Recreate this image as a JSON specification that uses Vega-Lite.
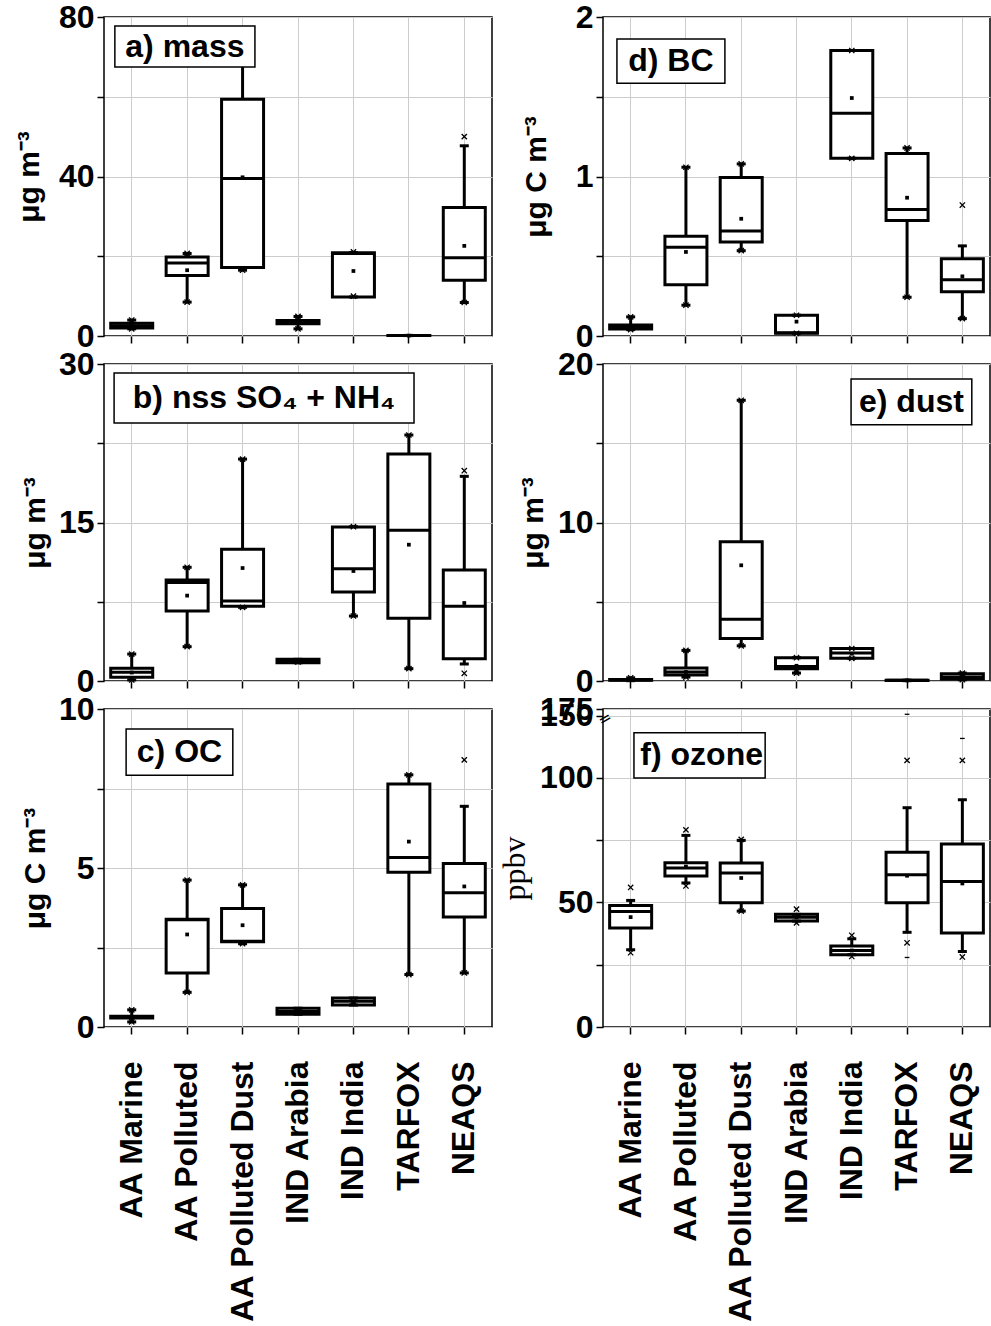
{
  "$schema": "https://vega.github.io/schema/vega-lite/v6.json",
  "padding": {"left": 13, "top": 0, "right": 0, "bottom": 0},
  "config": {
    "view": {"stroke": "black", "strokeWidth": 1.5},
    "font": "Liberation Sans",
    "axis": {
      "labelFont": "Liberation Sans", "labelFontSize": 32, "labelFontWeight": "bold", "labelColor": "black",
      "titleFont": "Liberation Sans", "titleFontSize": 30, "titleFontWeight": "bold", "titleColor": "black",
      "tickColor": "black", "tickSize": 7, "tickWidth": 1.5, "domain": false,
      "grid": true, "gridColor": "#cccccc", "gridWidth": 1,
      "labelOverlap": false, "labelBound": false, "labelFlush": false
    },
    "axisY": {"labelPadding": 3},
    "axisX": {"labelAngle": -90, "labelPadding": 27, "labelLimit": 0},
    "tick": {"opacity": 1},
    "point": {"opacity": 1},
    "bar": {"opacity": 1}
  },
  "datasets": {
    "stats": [
      {"panel": "a", "site": "AA Marine", "lo": 1.8, "q1": 2.0, "med": 2.6, "q3": 3.2, "hi": 4.0, "mean": 2.6},
      {"panel": "a", "site": "AA Polluted", "lo": 8.5, "q1": 15.2, "med": 18.3, "q3": 19.8, "hi": 20.7, "mean": 16.5},
      {"panel": "a", "site": "AA Polluted Dust", "lo": 16.5, "q1": 17.2, "med": 39.5, "q3": 59.4, "hi": 75.0, "mean": 39.8},
      {"panel": "a", "site": "IND Arabia", "lo": 1.8, "q1": 3.1, "med": 3.5, "q3": 3.9, "hi": 4.9, "mean": 3.5},
      {"panel": "a", "site": "IND India", "lo": 9.8, "q1": 9.8, "med": 20.7, "q3": 20.9, "hi": 20.9, "mean": 16.3},
      {"panel": "a", "site": "TARFOX", "lo": 0.1, "q1": 0.1, "med": 0.1, "q3": 0.15, "hi": 0.15, "mean": 0.1},
      {"panel": "a", "site": "NEAQS", "lo": 8.4, "q1": 14.0, "med": 19.6, "q3": 32.2, "hi": 47.7, "mean": 22.6},

      {"panel": "d", "site": "AA Marine", "lo": 0.04, "q1": 0.044, "med": 0.055, "q3": 0.069, "hi": 0.12, "mean": 0.055},
      {"panel": "d", "site": "AA Polluted", "lo": 0.193, "q1": 0.321, "med": 0.556, "q3": 0.625, "hi": 1.058, "mean": 0.527},
      {"panel": "d", "site": "AA Polluted Dust", "lo": 0.535, "q1": 0.59, "med": 0.659, "q3": 0.993, "hi": 1.079, "mean": 0.735},
      {"panel": "d", "site": "IND Arabia", "lo": 0.017, "q1": 0.017, "med": 0.02, "q3": 0.13, "hi": 0.13, "mean": 0.09},
      {"panel": "d", "site": "IND India", "lo": 1.114, "q1": 1.114, "med": 1.396, "q3": 1.79, "hi": 1.79, "mean": 1.492},
      {"panel": "d", "site": "TARFOX", "lo": 0.243, "q1": 0.724, "med": 0.793, "q3": 1.144, "hi": 1.179, "mean": 0.867},
      {"panel": "d", "site": "NEAQS", "lo": 0.109, "q1": 0.277, "med": 0.353, "q3": 0.485, "hi": 0.565, "mean": 0.374},

      {"panel": "b", "site": "AA Marine", "lo": 0.1, "q1": 0.35, "med": 0.82, "q3": 1.2, "hi": 2.55, "mean": 0.8},
      {"panel": "b", "site": "AA Polluted", "lo": 3.25, "q1": 6.62, "med": 9.31, "q3": 9.56, "hi": 10.76, "mean": 8.08},
      {"panel": "b", "site": "AA Polluted Dust", "lo": 6.97, "q1": 7.07, "med": 7.57, "q3": 12.46, "hi": 21.0, "mean": 10.69},
      {"panel": "b", "site": "IND Arabia", "lo": 1.73, "q1": 1.73, "med": 1.89, "q3": 2.05, "hi": 2.05, "mean": 1.89},
      {"panel": "b", "site": "IND India", "lo": 6.15, "q1": 8.42, "med": 10.63, "q3": 14.57, "hi": 14.6, "mean": 10.41},
      {"panel": "b", "site": "TARFOX", "lo": 1.17, "q1": 5.93, "med": 14.26, "q3": 21.48, "hi": 23.28, "mean": 12.9},
      {"panel": "b", "site": "NEAQS", "lo": 1.61, "q1": 2.11, "med": 7.07, "q3": 10.5, "hi": 19.37, "mean": 7.38},

      {"panel": "e", "site": "AA Marine", "lo": 0.02, "q1": 0.05, "med": 0.07, "q3": 0.1, "hi": 0.2, "mean": 0.08},
      {"panel": "e", "site": "AA Polluted", "lo": 0.25, "q1": 0.38, "med": 0.57, "q3": 0.82, "hi": 1.93, "mean": 0.57},
      {"panel": "e", "site": "AA Polluted Dust", "lo": 2.22, "q1": 2.68, "med": 3.9, "q3": 8.78, "hi": 17.71, "mean": 7.3},
      {"panel": "e", "site": "IND Arabia", "lo": 0.5, "q1": 0.78, "med": 0.92, "q3": 1.47, "hi": 1.47, "mean": 0.96},
      {"panel": "e", "site": "IND India", "lo": 1.43, "q1": 1.43, "med": 1.76, "q3": 2.05, "hi": 2.05, "mean": 1.72},
      {"panel": "e", "site": "TARFOX", "lo": 0.02, "q1": 0.03, "med": 0.04, "q3": 0.05, "hi": 0.05, "mean": 0.04},
      {"panel": "e", "site": "NEAQS", "lo": 0.08, "q1": 0.13, "med": 0.25, "q3": 0.46, "hi": 0.5, "mean": 0.3},

      {"panel": "c", "site": "AA Marine", "lo": 0.16, "q1": 0.28, "med": 0.31, "q3": 0.34, "hi": 0.54, "mean": 0.3},
      {"panel": "c", "site": "AA Polluted", "lo": 1.09, "q1": 1.7, "med": 3.37, "q3": 3.39, "hi": 4.62, "mean": 2.91},
      {"panel": "c", "site": "AA Polluted Dust", "lo": 2.62, "q1": 2.68, "med": 2.7, "q3": 3.73, "hi": 4.47, "mean": 3.2},
      {"panel": "c", "site": "IND Arabia", "lo": 0.4, "q1": 0.4, "med": 0.49, "q3": 0.59, "hi": 0.59, "mean": 0.49},
      {"panel": "c", "site": "IND India", "lo": 0.69, "q1": 0.69, "med": 0.81, "q3": 0.91, "hi": 0.91, "mean": 0.78},
      {"panel": "c", "site": "TARFOX", "lo": 1.65, "q1": 4.87, "med": 5.33, "q3": 7.64, "hi": 7.93, "mean": 5.83},
      {"panel": "c", "site": "NEAQS", "lo": 1.7, "q1": 3.46, "med": 4.22, "q3": 5.14, "hi": 6.94, "mean": 4.42},

      {"panel": "f", "site": "AA Marine", "lo": 31.0, "q1": 39.7, "med": 46.4, "q3": 48.8, "hi": 50.8, "mean": 44.1},
      {"panel": "f", "site": "AA Polluted", "lo": 57.8, "q1": 60.6, "med": 63.8, "q3": 65.9, "hi": 76.9, "mean": 64.4},
      {"panel": "f", "site": "AA Polluted Dust", "lo": 46.5, "q1": 49.9, "med": 61.8, "q3": 65.8, "hi": 74.9, "mean": 59.8},
      {"panel": "f", "site": "IND Arabia", "lo": 42.5, "q1": 42.5, "med": 44.0, "q3": 45.2, "hi": 45.2, "mean": 44.0},
      {"panel": "f", "site": "IND India", "lo": 29.0, "q1": 29.0, "med": 30.7, "q3": 32.5, "hi": 35.4, "mean": 30.7},
      {"panel": "f", "site": "TARFOX", "lo": 38.0, "q1": 49.9, "med": 61.1, "q3": 70.1, "hi": 88.0, "mean": 60.7},
      {"panel": "f", "site": "NEAQS", "lo": 30.3, "q1": 37.7, "med": 58.4, "q3": 73.4, "hi": 91.2, "mean": 57.6}
    ],
    "pts": [
      {"panel": "a", "site": "AA Marine", "v": 4.0, "kind": "x"},
      {"panel": "a", "site": "AA Marine", "v": 1.8, "kind": "x"},
      {"panel": "a", "site": "AA Polluted", "v": 20.7, "kind": "x"},
      {"panel": "a", "site": "AA Polluted", "v": 8.5, "kind": "x"},
      {"panel": "a", "site": "AA Polluted Dust", "v": 16.5, "kind": "x"},
      {"panel": "a", "site": "IND Arabia", "v": 4.9, "kind": "x"},
      {"panel": "a", "site": "IND Arabia", "v": 1.8, "kind": "x"},
      {"panel": "a", "site": "IND India", "v": 21.1, "kind": "x"},
      {"panel": "a", "site": "IND India", "v": 10.0, "kind": "x"},
      {"panel": "a", "site": "NEAQS", "v": 50.0, "kind": "x"},
      {"panel": "a", "site": "NEAQS", "v": 8.4, "kind": "x"},

      {"panel": "d", "site": "AA Marine", "v": 0.12, "kind": "x"},
      {"panel": "d", "site": "AA Marine", "v": 0.04, "kind": "x"},
      {"panel": "d", "site": "AA Polluted", "v": 1.058, "kind": "x"},
      {"panel": "d", "site": "AA Polluted", "v": 0.193, "kind": "x"},
      {"panel": "d", "site": "AA Polluted Dust", "v": 1.079, "kind": "x"},
      {"panel": "d", "site": "AA Polluted Dust", "v": 0.535, "kind": "x"},
      {"panel": "d", "site": "IND Arabia", "v": 0.13, "kind": "x"},
      {"panel": "d", "site": "IND Arabia", "v": 0.017, "kind": "x"},
      {"panel": "d", "site": "IND India", "v": 1.79, "kind": "x"},
      {"panel": "d", "site": "IND India", "v": 1.114, "kind": "x"},
      {"panel": "d", "site": "TARFOX", "v": 1.179, "kind": "x"},
      {"panel": "d", "site": "TARFOX", "v": 0.243, "kind": "x"},
      {"panel": "d", "site": "NEAQS", "v": 0.821, "kind": "x"},
      {"panel": "d", "site": "NEAQS", "v": 0.109, "kind": "x"},

      {"panel": "b", "site": "AA Marine", "v": 2.55, "kind": "x"},
      {"panel": "b", "site": "AA Marine", "v": 0.1, "kind": "x"},
      {"panel": "b", "site": "AA Polluted", "v": 10.76, "kind": "x"},
      {"panel": "b", "site": "AA Polluted", "v": 3.25, "kind": "x"},
      {"panel": "b", "site": "AA Polluted Dust", "v": 21.0, "kind": "x"},
      {"panel": "b", "site": "AA Polluted Dust", "v": 6.97, "kind": "x"},
      {"panel": "b", "site": "IND Arabia", "v": 1.8, "kind": "x"},
      {"panel": "b", "site": "IND India", "v": 14.6, "kind": "x"},
      {"panel": "b", "site": "IND India", "v": 6.15, "kind": "x"},
      {"panel": "b", "site": "TARFOX", "v": 23.28, "kind": "x"},
      {"panel": "b", "site": "TARFOX", "v": 1.17, "kind": "x"},
      {"panel": "b", "site": "NEAQS", "v": 19.9, "kind": "x"},
      {"panel": "b", "site": "NEAQS", "v": 0.73, "kind": "x"},

      {"panel": "e", "site": "AA Marine", "v": 0.2, "kind": "x"},
      {"panel": "e", "site": "AA Polluted", "v": 1.93, "kind": "x"},
      {"panel": "e", "site": "AA Polluted", "v": 0.25, "kind": "x"},
      {"panel": "e", "site": "AA Polluted Dust", "v": 17.71, "kind": "x"},
      {"panel": "e", "site": "AA Polluted Dust", "v": 2.22, "kind": "x"},
      {"panel": "e", "site": "IND Arabia", "v": 1.47, "kind": "x"},
      {"panel": "e", "site": "IND Arabia", "v": 0.5, "kind": "x"},
      {"panel": "e", "site": "IND India", "v": 2.05, "kind": "x"},
      {"panel": "e", "site": "IND India", "v": 1.43, "kind": "x"},
      {"panel": "e", "site": "NEAQS", "v": 0.5, "kind": "x"},
      {"panel": "e", "site": "NEAQS", "v": 0.08, "kind": "x"},

      {"panel": "c", "site": "AA Marine", "v": 0.54, "kind": "x"},
      {"panel": "c", "site": "AA Marine", "v": 0.16, "kind": "x"},
      {"panel": "c", "site": "AA Polluted", "v": 4.62, "kind": "x"},
      {"panel": "c", "site": "AA Polluted", "v": 1.09, "kind": "x"},
      {"panel": "c", "site": "AA Polluted Dust", "v": 4.47, "kind": "x"},
      {"panel": "c", "site": "AA Polluted Dust", "v": 2.62, "kind": "x"},
      {"panel": "c", "site": "IND Arabia", "v": 0.49, "kind": "x"},
      {"panel": "c", "site": "IND India", "v": 0.81, "kind": "x"},
      {"panel": "c", "site": "TARFOX", "v": 7.93, "kind": "x"},
      {"panel": "c", "site": "TARFOX", "v": 1.65, "kind": "x"},
      {"panel": "c", "site": "NEAQS", "v": 8.4, "kind": "x"},
      {"panel": "c", "site": "NEAQS", "v": 1.7, "kind": "x"},

      {"panel": "f", "site": "AA Marine", "v": 56.0, "kind": "x"},
      {"panel": "f", "site": "AA Marine", "v": 29.8, "kind": "x"},
      {"panel": "f", "site": "AA Polluted", "v": 79.1, "kind": "x"},
      {"panel": "f", "site": "AA Polluted", "v": 56.6, "kind": "x"},
      {"panel": "f", "site": "AA Polluted Dust", "v": 75.3, "kind": "x"},
      {"panel": "f", "site": "AA Polluted Dust", "v": 46.5, "kind": "x"},
      {"panel": "f", "site": "IND Arabia", "v": 47.3, "kind": "x"},
      {"panel": "f", "site": "IND Arabia", "v": 41.8, "kind": "x"},
      {"panel": "f", "site": "IND India", "v": 36.8, "kind": "x"},
      {"panel": "f", "site": "IND India", "v": 28.3, "kind": "x"},
      {"panel": "f", "site": "TARFOX", "v": 107.0, "kind": "x"},
      {"panel": "f", "site": "TARFOX", "v": 33.8, "kind": "x"},
      {"panel": "f", "site": "NEAQS", "v": 107.0, "kind": "x"},
      {"panel": "f", "site": "NEAQS", "v": 28.1, "kind": "x"},
      {"panel": "f", "site": "TARFOX", "v": 155.0, "kind": "dash"},
      {"panel": "f", "site": "TARFOX", "v": 27.9, "kind": "dash"},
      {"panel": "f", "site": "NEAQS", "v": 115.8, "kind": "dash"}
    ],
    "labels": [
      {"panel": "a", "label": "a) mass"},
      {"panel": "b", "label": "b) nss SO₄ + NH₄"},
      {"panel": "c", "label": "c) OC"},
      {"panel": "d", "label": "d) BC"},
      {"panel": "e", "label": "e) dust"},
      {"panel": "f", "label": "f) ozone"}
    ]
  },
  "columns": 2,
  "spacing": {"row": 28, "column": 111},
  "bounds": "flush",
  "concat": [
    {
      "width": 388, "height": 319,
      "layer": [
        {
          "data": {"name": "stats"},
          "transform": [{"filter": "datum.panel == 'a'"}],
          "encoding": {"x": {"field": "site", "type": "nominal", "scale": {"type": "band", "domain": ["AA Marine", "AA Polluted", "AA Polluted Dust", "IND Arabia", "IND India", "TARFOX", "NEAQS"], "paddingInner": 0, "paddingOuter": 0}, "axis": {"labels": false, "title": null, "bandPosition": 0.5}}},
          "layer": [
            {"mark": {"type": "rule", "strokeWidth": 3, "color": "black"}, "encoding": {"y": {"field": "lo", "type": "quantitative", "scale": {"domain": [0, 80], "nice": false, "zero": false}, "axis": {"values": [0, 20, 40, 60, 80], "labelExpr": "datum.value % 40 == 0 ? datum.label : ''", "title": "μg m⁻³", "titlePadding": 14}}, "y2": {"field": "hi"}}},
            {"mark": {"type": "bar", "fill": "white", "stroke": "black", "strokeWidth": 3, "width": 42}, "encoding": {"y": {"field": "q1", "type": "quantitative"}, "y2": {"field": "q3"}}},
            {"mark": {"type": "tick", "color": "black", "thickness": 3, "size": 42}, "encoding": {"y": {"field": "med", "type": "quantitative"}}},
            {"mark": {"type": "tick", "color": "black", "thickness": 3, "size": 9}, "encoding": {"y": {"field": "lo", "type": "quantitative"}}},
            {"mark": {"type": "tick", "color": "black", "thickness": 3, "size": 9}, "encoding": {"y": {"field": "hi", "type": "quantitative"}}},
            {"mark": {"type": "point", "shape": "square", "filled": true, "size": 14, "color": "black"}, "encoding": {"y": {"field": "mean", "type": "quantitative"}}},
            {"data": {"name": "pts"}, "transform": [{"filter": "datum.panel == 'a' && datum.kind == 'x'"}], "mark": {"type": "point", "shape": "M-1,-1L1,1M-1,1L1,-1", "filled": false, "size": 28, "stroke": "black", "strokeWidth": 1.3}, "encoding": {"y": {"field": "v", "type": "quantitative"}}}
          ]
        },
        {
          "data": {"name": "labels"},
          "transform": [{"filter": "datum.panel == 'a'"}],
          "layer": [
            {"mark": {"type": "rect", "fill": "white", "stroke": "black", "strokeWidth": 1.5}, "encoding": {"x": {"datum": 0.028, "type": "quantitative", "scale": {"domain": [0, 1]}, "axis": null}, "x2": {"datum": 0.389}, "y": {"datum": 0.843, "type": "quantitative", "scale": {"domain": [0, 1]}, "axis": null}, "y2": {"datum": 0.972}}},
            {"mark": {"type": "text", "font": "Liberation Sans", "fontSize": 32, "fontWeight": "bold", "align": "center", "baseline": "middle", "color": "black"}, "encoding": {"x": {"datum": 0.2085, "type": "quantitative"}, "y": {"datum": 0.9075, "type": "quantitative"}, "text": {"field": "label"}}}
          ]
        }
      ],
      "resolve": {"scale": {"x": "independent", "y": "independent"}}
    },
    {
      "width": 387, "height": 319,
      "layer": [
        {
          "data": {"name": "stats"},
          "transform": [{"filter": "datum.panel == 'd'"}],
          "encoding": {"x": {"field": "site", "type": "nominal", "scale": {"type": "band", "domain": ["AA Marine", "AA Polluted", "AA Polluted Dust", "IND Arabia", "IND India", "TARFOX", "NEAQS"], "paddingInner": 0, "paddingOuter": 0}, "axis": {"labels": false, "title": null, "bandPosition": 0.5}}},
          "layer": [
            {"mark": {"type": "rule", "strokeWidth": 3, "color": "black"}, "encoding": {"y": {"field": "lo", "type": "quantitative", "scale": {"domain": [0, 2], "nice": false, "zero": false}, "axis": {"values": [0, 0.5, 1, 1.5, 2], "labelExpr": "datum.value % 1 == 0 ? format(datum.value, 'd') : ''", "title": "μg C m⁻³", "titlePadding": 24}}, "y2": {"field": "hi"}}},
            {"mark": {"type": "bar", "fill": "white", "stroke": "black", "strokeWidth": 3, "width": 42}, "encoding": {"y": {"field": "q1", "type": "quantitative"}, "y2": {"field": "q3"}}},
            {"mark": {"type": "tick", "color": "black", "thickness": 3, "size": 42}, "encoding": {"y": {"field": "med", "type": "quantitative"}}},
            {"mark": {"type": "tick", "color": "black", "thickness": 3, "size": 9}, "encoding": {"y": {"field": "lo", "type": "quantitative"}}},
            {"mark": {"type": "tick", "color": "black", "thickness": 3, "size": 9}, "encoding": {"y": {"field": "hi", "type": "quantitative"}}},
            {"mark": {"type": "point", "shape": "square", "filled": true, "size": 14, "color": "black"}, "encoding": {"y": {"field": "mean", "type": "quantitative"}}},
            {"data": {"name": "pts"}, "transform": [{"filter": "datum.panel == 'd' && datum.kind == 'x'"}], "mark": {"type": "point", "shape": "M-1,-1L1,1M-1,1L1,-1", "filled": false, "size": 28, "stroke": "black", "strokeWidth": 1.3}, "encoding": {"y": {"field": "v", "type": "quantitative"}}}
          ]
        },
        {
          "data": {"name": "labels"},
          "transform": [{"filter": "datum.panel == 'd'"}],
          "layer": [
            {"mark": {"type": "rect", "fill": "white", "stroke": "black", "strokeWidth": 1.5}, "encoding": {"x": {"datum": 0.036, "type": "quantitative", "scale": {"domain": [0, 1]}, "axis": null}, "x2": {"datum": 0.315}, "y": {"datum": 0.792, "type": "quantitative", "scale": {"domain": [0, 1]}, "axis": null}, "y2": {"datum": 0.931}}},
            {"mark": {"type": "text", "font": "Liberation Sans", "fontSize": 32, "fontWeight": "bold", "align": "center", "baseline": "middle", "color": "black"}, "encoding": {"x": {"datum": 0.1755, "type": "quantitative"}, "y": {"datum": 0.8615, "type": "quantitative"}, "text": {"field": "label"}}}
          ]
        }
      ],
      "resolve": {"scale": {"x": "independent", "y": "independent"}}
    },
    {
      "width": 388, "height": 317,
      "layer": [
        {
          "data": {"name": "stats"},
          "transform": [{"filter": "datum.panel == 'b'"}],
          "encoding": {"x": {"field": "site", "type": "nominal", "scale": {"type": "band", "domain": ["AA Marine", "AA Polluted", "AA Polluted Dust", "IND Arabia", "IND India", "TARFOX", "NEAQS"], "paddingInner": 0, "paddingOuter": 0}, "axis": {"labels": false, "title": null, "bandPosition": 0.5}}},
          "layer": [
            {"mark": {"type": "rule", "strokeWidth": 3, "color": "black"}, "encoding": {"y": {"field": "lo", "type": "quantitative", "scale": {"domain": [0, 30], "nice": false, "zero": false}, "axis": {"values": [0, 7.5, 15, 22.5, 30], "labelExpr": "datum.value % 15 == 0 ? datum.label : ''", "title": "μg m⁻³", "titlePadding": 8}}, "y2": {"field": "hi"}}},
            {"mark": {"type": "bar", "fill": "white", "stroke": "black", "strokeWidth": 3, "width": 42}, "encoding": {"y": {"field": "q1", "type": "quantitative"}, "y2": {"field": "q3"}}},
            {"mark": {"type": "tick", "color": "black", "thickness": 3, "size": 42}, "encoding": {"y": {"field": "med", "type": "quantitative"}}},
            {"mark": {"type": "tick", "color": "black", "thickness": 3, "size": 9}, "encoding": {"y": {"field": "lo", "type": "quantitative"}}},
            {"mark": {"type": "tick", "color": "black", "thickness": 3, "size": 9}, "encoding": {"y": {"field": "hi", "type": "quantitative"}}},
            {"mark": {"type": "point", "shape": "square", "filled": true, "size": 14, "color": "black"}, "encoding": {"y": {"field": "mean", "type": "quantitative"}}},
            {"data": {"name": "pts"}, "transform": [{"filter": "datum.panel == 'b' && datum.kind == 'x'"}], "mark": {"type": "point", "shape": "M-1,-1L1,1M-1,1L1,-1", "filled": false, "size": 28, "stroke": "black", "strokeWidth": 1.3}, "encoding": {"y": {"field": "v", "type": "quantitative"}}}
          ]
        },
        {
          "data": {"name": "labels"},
          "transform": [{"filter": "datum.panel == 'b'"}],
          "layer": [
            {"mark": {"type": "rect", "fill": "white", "stroke": "black", "strokeWidth": 1.5}, "encoding": {"x": {"datum": 0.026, "type": "quantitative", "scale": {"domain": [0, 1]}, "axis": null}, "x2": {"datum": 0.799}, "y": {"datum": 0.814, "type": "quantitative", "scale": {"domain": [0, 1]}, "axis": null}, "y2": {"datum": 0.972}}},
            {"mark": {"type": "text", "font": "Liberation Sans", "fontSize": 32, "fontWeight": "bold", "align": "center", "baseline": "middle", "color": "black"}, "encoding": {"x": {"datum": 0.4125, "type": "quantitative"}, "y": {"datum": 0.893, "type": "quantitative"}, "text": {"field": "label"}}}
          ]
        }
      ],
      "resolve": {"scale": {"x": "independent", "y": "independent"}}
    },
    {
      "width": 387, "height": 317,
      "layer": [
        {
          "data": {"name": "stats"},
          "transform": [{"filter": "datum.panel == 'e'"}],
          "encoding": {"x": {"field": "site", "type": "nominal", "scale": {"type": "band", "domain": ["AA Marine", "AA Polluted", "AA Polluted Dust", "IND Arabia", "IND India", "TARFOX", "NEAQS"], "paddingInner": 0, "paddingOuter": 0}, "axis": {"labels": false, "title": null, "bandPosition": 0.5}}},
          "layer": [
            {"mark": {"type": "rule", "strokeWidth": 3, "color": "black"}, "encoding": {"y": {"field": "lo", "type": "quantitative", "scale": {"domain": [0, 20], "nice": false, "zero": false}, "axis": {"values": [0, 5, 10, 15, 20], "labelExpr": "datum.value % 10 == 0 ? datum.label : ''", "title": "μg m⁻³", "titlePadding": 9}}, "y2": {"field": "hi"}}},
            {"mark": {"type": "bar", "fill": "white", "stroke": "black", "strokeWidth": 3, "width": 42}, "encoding": {"y": {"field": "q1", "type": "quantitative"}, "y2": {"field": "q3"}}},
            {"mark": {"type": "tick", "color": "black", "thickness": 3, "size": 42}, "encoding": {"y": {"field": "med", "type": "quantitative"}}},
            {"mark": {"type": "tick", "color": "black", "thickness": 3, "size": 9}, "encoding": {"y": {"field": "lo", "type": "quantitative"}}},
            {"mark": {"type": "tick", "color": "black", "thickness": 3, "size": 9}, "encoding": {"y": {"field": "hi", "type": "quantitative"}}},
            {"mark": {"type": "point", "shape": "square", "filled": true, "size": 14, "color": "black"}, "encoding": {"y": {"field": "mean", "type": "quantitative"}}},
            {"data": {"name": "pts"}, "transform": [{"filter": "datum.panel == 'e' && datum.kind == 'x'"}], "mark": {"type": "point", "shape": "M-1,-1L1,1M-1,1L1,-1", "filled": false, "size": 28, "stroke": "black", "strokeWidth": 1.3}, "encoding": {"y": {"field": "v", "type": "quantitative"}}}
          ]
        },
        {
          "data": {"name": "labels"},
          "transform": [{"filter": "datum.panel == 'e'"}],
          "layer": [
            {"mark": {"type": "rect", "fill": "white", "stroke": "black", "strokeWidth": 1.5}, "encoding": {"x": {"datum": 0.641, "type": "quantitative", "scale": {"domain": [0, 1]}, "axis": null}, "x2": {"datum": 0.953}, "y": {"datum": 0.808, "type": "quantitative", "scale": {"domain": [0, 1]}, "axis": null}, "y2": {"datum": 0.953}}},
            {"mark": {"type": "text", "font": "Liberation Sans", "fontSize": 32, "fontWeight": "bold", "align": "center", "baseline": "middle", "color": "black"}, "encoding": {"x": {"datum": 0.797, "type": "quantitative"}, "y": {"datum": 0.8805, "type": "quantitative"}, "text": {"field": "label"}}}
          ]
        }
      ],
      "resolve": {"scale": {"x": "independent", "y": "independent"}}
    },
    {
      "width": 388, "height": 318,
      "layer": [
        {
          "data": {"name": "stats"},
          "transform": [{"filter": "datum.panel == 'c'"}],
          "encoding": {"x": {"field": "site", "type": "nominal", "scale": {"type": "band", "domain": ["AA Marine", "AA Polluted", "AA Polluted Dust", "IND Arabia", "IND India", "TARFOX", "NEAQS"], "paddingInner": 0, "paddingOuter": 0}, "axis": {"title": null, "bandPosition": 0.5}}},
          "layer": [
            {"mark": {"type": "rule", "strokeWidth": 3, "color": "black"}, "encoding": {"y": {"field": "lo", "type": "quantitative", "scale": {"domain": [0, 10], "nice": false, "zero": false}, "axis": {"values": [0, 2.5, 5, 7.5, 10], "labelExpr": "datum.value % 5 == 0 ? datum.label : ''", "title": "μg C m⁻³", "titlePadding": 8}}, "y2": {"field": "hi"}}},
            {"mark": {"type": "bar", "fill": "white", "stroke": "black", "strokeWidth": 3, "width": 42}, "encoding": {"y": {"field": "q1", "type": "quantitative"}, "y2": {"field": "q3"}}},
            {"mark": {"type": "tick", "color": "black", "thickness": 3, "size": 42}, "encoding": {"y": {"field": "med", "type": "quantitative"}}},
            {"mark": {"type": "tick", "color": "black", "thickness": 3, "size": 9}, "encoding": {"y": {"field": "lo", "type": "quantitative"}}},
            {"mark": {"type": "tick", "color": "black", "thickness": 3, "size": 9}, "encoding": {"y": {"field": "hi", "type": "quantitative"}}},
            {"mark": {"type": "point", "shape": "square", "filled": true, "size": 14, "color": "black"}, "encoding": {"y": {"field": "mean", "type": "quantitative"}}},
            {"data": {"name": "pts"}, "transform": [{"filter": "datum.panel == 'c' && datum.kind == 'x'"}], "mark": {"type": "point", "shape": "M-1,-1L1,1M-1,1L1,-1", "filled": false, "size": 28, "stroke": "black", "strokeWidth": 1.3}, "encoding": {"y": {"field": "v", "type": "quantitative"}}}
          ]
        },
        {
          "data": {"name": "labels"},
          "transform": [{"filter": "datum.panel == 'c'"}],
          "layer": [
            {"mark": {"type": "rect", "fill": "white", "stroke": "black", "strokeWidth": 1.5}, "encoding": {"x": {"datum": 0.057, "type": "quantitative", "scale": {"domain": [0, 1]}, "axis": null}, "x2": {"datum": 0.332}, "y": {"datum": 0.792, "type": "quantitative", "scale": {"domain": [0, 1]}, "axis": null}, "y2": {"datum": 0.937}}},
            {"mark": {"type": "text", "font": "Liberation Sans", "fontSize": 32, "fontWeight": "bold", "align": "center", "baseline": "middle", "color": "black"}, "encoding": {"x": {"datum": 0.1945, "type": "quantitative"}, "y": {"datum": 0.8645, "type": "quantitative"}, "text": {"field": "label"}}}
          ]
        }
      ],
      "resolve": {"scale": {"x": "independent", "y": "independent"}}
    },
    {
      "width": 387, "height": 318,
      "layer": [
        {
          "data": {"name": "stats"},
          "transform": [{"filter": "datum.panel == 'f'"}],
          "encoding": {"x": {"field": "site", "type": "nominal", "scale": {"type": "band", "domain": ["AA Marine", "AA Polluted", "AA Polluted Dust", "IND Arabia", "IND India", "TARFOX", "NEAQS"], "paddingInner": 0, "paddingOuter": 0}, "axis": {"title": null, "bandPosition": 0.5}}},
          "layer": [
            {"mark": {"type": "rule", "strokeWidth": 3, "color": "black"}, "encoding": {"y": {"field": "lo", "type": "quantitative", "scale": {"type": "linear", "domain": [0, 122, 175], "range": [318, 14, 0], "nice": false, "zero": false}, "axis": {"values": [0, 25, 50, 75, 100, 150, 175], "labelExpr": "(datum.value % 50 == 0 || datum.value == 175) ? datum.label : ''", "title": "ppbv", "titleFont": "Liberation Serif", "titleFontWeight": "normal", "titleFontSize": 32, "titlePadding": 8}}, "y2": {"field": "hi"}}},
            {"mark": {"type": "bar", "fill": "white", "stroke": "black", "strokeWidth": 3, "width": 42}, "encoding": {"y": {"field": "q1", "type": "quantitative"}, "y2": {"field": "q3"}}},
            {"mark": {"type": "tick", "color": "black", "thickness": 3, "size": 42}, "encoding": {"y": {"field": "med", "type": "quantitative"}}},
            {"mark": {"type": "tick", "color": "black", "thickness": 3, "size": 9}, "encoding": {"y": {"field": "lo", "type": "quantitative"}}},
            {"mark": {"type": "tick", "color": "black", "thickness": 3, "size": 9}, "encoding": {"y": {"field": "hi", "type": "quantitative"}}},
            {"mark": {"type": "point", "shape": "square", "filled": true, "size": 14, "color": "black"}, "encoding": {"y": {"field": "mean", "type": "quantitative"}}},
            {"data": {"name": "pts"}, "transform": [{"filter": "datum.panel == 'f' && datum.kind == 'x'"}], "mark": {"type": "point", "shape": "M-1,-1L1,1M-1,1L1,-1", "filled": false, "size": 28, "stroke": "black", "strokeWidth": 1.3}, "encoding": {"y": {"field": "v", "type": "quantitative"}}},
            {"data": {"name": "pts"}, "transform": [{"filter": "datum.panel == 'f' && datum.kind == 'dash'"}], "mark": {"type": "point", "shape": "M-1,0L1,0", "filled": false, "size": 22, "stroke": "black", "strokeWidth": 1.3}, "encoding": {"y": {"field": "v", "type": "quantitative"}}}
          ]
        },
        {
          "data": {"name": "labels"},
          "transform": [{"filter": "datum.panel == 'f'"}],
          "layer": [
            {"mark": {"type": "rect", "fill": "white", "stroke": "black", "strokeWidth": 1.5}, "encoding": {"x": {"datum": 0.08, "type": "quantitative", "scale": {"domain": [0, 1]}, "axis": null}, "x2": {"datum": 0.419}, "y": {"datum": 0.783, "type": "quantitative", "scale": {"domain": [0, 1]}, "axis": null}, "y2": {"datum": 0.925}}},
            {"mark": {"type": "text", "font": "Liberation Sans", "fontSize": 32, "fontWeight": "bold", "align": "center", "baseline": "middle", "color": "black"}, "encoding": {"x": {"datum": 0.255, "type": "quantitative"}, "y": {"datum": 0.854, "type": "quantitative"}, "text": {"field": "label"}}},
            {"mark": {"type": "text", "text": "=", "font": "DejaVu Sans", "fontSize": 16, "angle": -30, "align": "center", "baseline": "middle", "color": "black"}, "encoding": {"x": {"datum": 0.005, "type": "quantitative"}, "y": {"datum": 0.968, "type": "quantitative"}}}
          ]
        }
      ],
      "resolve": {"scale": {"x": "independent", "y": "independent"}}
    }
  ]
}
